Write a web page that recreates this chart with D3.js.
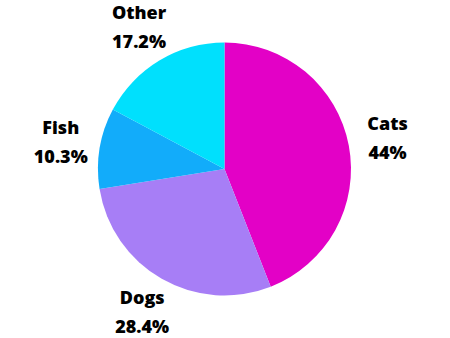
<!DOCTYPE html>
<html>
<head>
<meta charset="utf-8">
<script src="https://cdn.jsdelivr.net/npm/d3@7"></script>
<style>
  html, body { margin: 0; padding: 0; background: #ffffff; }
  svg { display: block; }
  .lbl { font-family: "Open Sans", "DejaVu Sans", sans-serif; font-weight: 800; font-size: 18px; fill: #000; }
</style>
</head>
<body>
<script>
// Pet ownership share
const categories = ["Cats", "Dogs", "Fish", "Other"];
const shares = [44, 28.4, 10.3, 17.2];
const valueLabels = ["44%", "28.4%", "10.3%", "17.2%"];
const colors = ["#e301c6", "#a77ef6", "#12acfa", "#00e0fd"];
// small vertical nudges for the outside labels
const labelNudgeY = [0, -1, 0, 0];

const width = 450, height = 338;
const cx = 224.5, cy = 169, radius = 126.5, labelRadius = 166;

const svg = d3.select("body").append("svg")
  .attr("width", width).attr("height", height);

const data = categories.map((c, i) => ({ name: c, value: shares[i], text: valueLabels[i], color: colors[i], i }));

const pie = d3.pie().value(d => d.value).sort(null);
const arc = d3.arc().innerRadius(0).outerRadius(radius);
const labelArc = d3.arc().innerRadius(labelRadius).outerRadius(labelRadius);

const g = svg.append("g").attr("transform", `translate(${cx},${cy})`);
const arcs = pie(data);

g.selectAll("path.slice").data(arcs).join("path")
  .attr("class", "slice")
  .attr("d", arc)
  .attr("fill", d => d.data.color);

const labels = g.selectAll("text.lbl").data(arcs).join("text")
  .attr("class", "lbl")
  .attr("text-anchor", "middle")
  .attr("transform", d => {
    const [x, y] = labelArc.centroid(d);
    return `translate(${x},${y + labelNudgeY[d.data.i]})`;
  });

labels.append("tspan").attr("x", 0).attr("y", -8).text(d => d.data.name);
labels.append("tspan").attr("x", 0).attr("y", 21).text(d => d.data.text);
</script>
</body>
</html>
